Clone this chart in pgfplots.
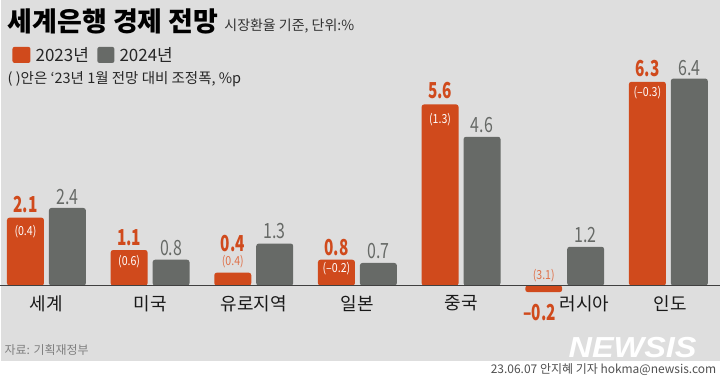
\documentclass[border=0pt]{standalone}
\usepackage{graphicx}
\usepackage{pgfplots}
\pgfplotsset{compat=1.18}
\usepackage{fontspec}
\setmainfont{Noto Sans CJK KR}
\newfontfamily\wmfont{Liberation Sans}
\definecolor{bg}{RGB}{222,222,222}
\definecolor{org}{RGB}{208,74,28}
\definecolor{lorg}{RGB}{222,112,72}
\definecolor{gry}{RGB}{103,106,103}
\definecolor{txtg}{RGB}{80,80,80}
\newcommand{\fs}[1]{\fontsize{#1}{#1}\selectfont}
\pgfplotstableread{
x y dy dx lbl
0 2.1 5 -21 2.1
1 1.1 4 -21 1.1
2 0.4 21 -21 0.4
3 0.8 4 -21 0.8
4 5.6 5 -21 5.6
5 -0.2 -29 -25 –0.2
6 6.3 5 -21 6.3
}\tblA
\pgfplotstableread{
x y dy lbl
0 2.4 3 2.4
1 0.8 4 0.8
2 1.3 5 1.3
3 0.7 4 0.7
4 4.6 4 4.6
5 1.2 4 1.2
6 6.4 3 6.4
}\tblB
\begin{document}
\begin{tikzpicture}[x=1pt,y=1pt]
\fill[white] (0,0) rectangle (720,384);
\fill[bg] (0,23) rectangle (720,384);
% header
\node[anchor=west, inner sep=0, font=\fs{27}\bfseries] at (7,363) {세계은행 경제 전망};
\node[anchor=west, inner sep=0, font=\fs{14}, text=black!80] at (224,358) {시장환율 기준, 단위:\%};
\fill[org, rounded corners=2pt] (12,321) rectangle (30,337);
\node[anchor=west, inner sep=0, font=\fs{17}, text=black!85] at (35,329) {2023년};
\fill[gry, rounded corners=2pt] (97,321) rectangle (114,337);
\node[anchor=west, inner sep=0, font=\fs{17}, text=black!85] at (119,329) {2024년};
\node[anchor=west, inner sep=0, font=\fs{14.5}, text=black!85] at (7,304.5) {(~)안은 ‘23년 1월 전망 대비 조정폭, \%p};
% footer
\node[anchor=west, inner sep=0, font=\fs{12}, text=black!50] at (4,34) {자료: 기획재정부};
\node[font=\wmfont\fs{29}\bfseries\itshape, text=white, inner sep=0] at (633,36) {\scalebox{1.12}[1]{NEWSIS}};
\node[anchor=east, inner sep=0, font=\fs{12}, text=txtg] at (717,14) {23.06.07 안지혜 기자 hokma@newsis.com};
\begin{axis}[
  at={(46pt,98pt)}, anchor=origin, scale only axis,
  width=720pt, height=291.6pt,
  xmin=-0.4432, xmax=6.4933, ymin=-1, ymax=8,
  hide axis, clip=false,
]
\addplot[ybar, bar width=37pt, bar shift=-21pt, fill=org, draw=none, rounded corners=2.5pt,
  point meta=explicit symbolic,
  visualization depends on={\thisrow{dy} \as \dy},
  visualization depends on={\thisrow{dx} \as \dx},
  nodes near coords={\scalebox{0.7}[1]{\pgfplotspointmeta}},
  every node near coord/.append style={anchor=south, inner sep=0pt, yshift=\dy, xshift=\dx, text=org, font=\fs{22}\bfseries}]
  table[x=x, y=y, meta=lbl] {\tblA};
\addplot[ybar, bar width=37pt, bar shift=21pt, fill=gry, draw=none, rounded corners=2.5pt,
  point meta=explicit symbolic,
  visualization depends on={\thisrow{dy} \as \dy},
  nodes near coords={\scalebox{0.76}[1]{\pgfplotspointmeta}},
  every node near coord/.append style={anchor=south, inner sep=0pt, yshift=\dy, xshift=21pt, text=gry, font=\fs{21}}]
  table[x=x, y=y, meta=lbl] {\tblB};
\draw[black!75, line width=1pt] (axis cs:-0.4432,0) -- (axis cs:6.4933,0);
% adjustments relative to 2023 January forecast
\begin{scope}[every node/.style={font=\fs{12.5}, inner sep=0pt, xshift=-21pt}]
\node[text=white] at (axis cs:0,1.68) {\scalebox{0.85}[1]{(0.4)}};
\node[text=white] at (axis cs:1,0.74) {\scalebox{0.85}[1]{(0.6)}};
\node[text=lorg] at (axis cs:2,0.74) {\scalebox{0.85}[1]{(0.4)}};
\node[text=white] at (axis cs:3,0.52) {\scalebox{0.85}[1]{(–0.2)}};
\node[text=white] at (axis cs:4,5.14) {\scalebox{0.85}[1]{(1.3)}};
\node[text=lorg] at (axis cs:5,0.31) {\scalebox{0.85}[1]{(3.1)}};
\node[text=white] at (axis cs:6,5.95) {\scalebox{0.85}[1]{(–0.3)}};
\end{scope}
% category labels
\begin{scope}[every node/.style={font=\fs{18}, inner sep=0pt, text=black!90}]
\node at ([yshift=-18pt]axis cs:0,0) {세계};
\node at ([yshift=-18pt]axis cs:1,0) {미국};
\node at ([yshift=-18pt]axis cs:2,0) {유로지역};
\node at ([yshift=-18pt]axis cs:3,0) {일본};
\node at ([yshift=-18pt]axis cs:4,0) {중국};
\node at ([yshift=-18pt, xshift=20pt]axis cs:5,0) {러시아};
\node at ([yshift=-18pt, xshift=2pt]axis cs:6,0) {인도};
\end{scope}
\end{axis}
\end{tikzpicture}
\end{document}
